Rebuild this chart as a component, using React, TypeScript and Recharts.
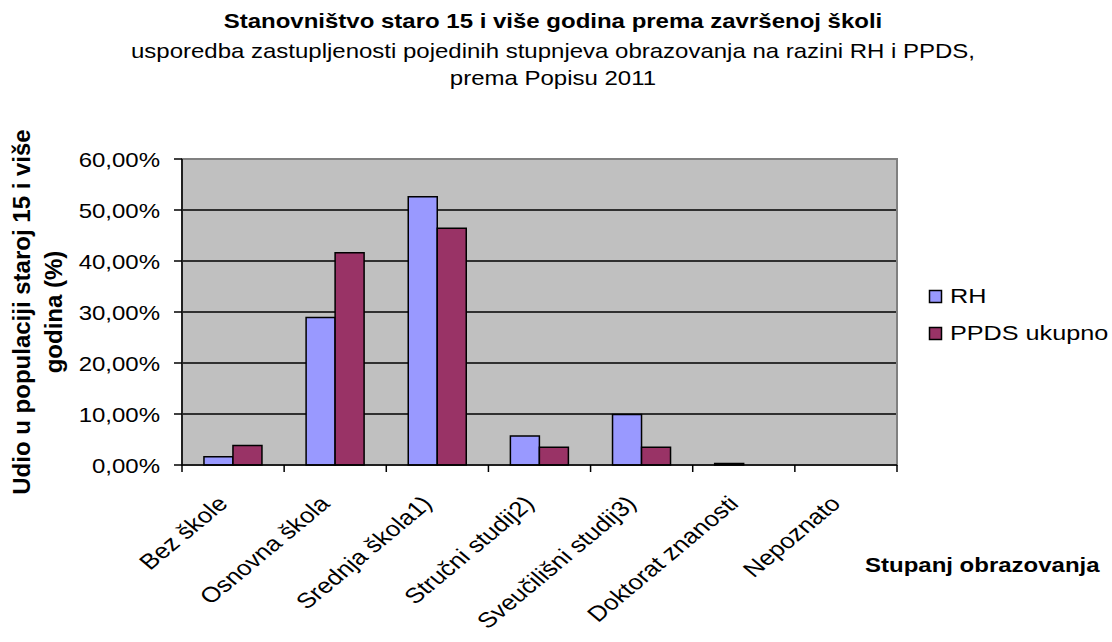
import React from 'react';
import { BarChart, Bar, XAxis, YAxis, CartesianGrid, ReferenceArea, Legend } from 'recharts';

const categories = [
  'Bez škole',
  'Osnovna škola',
  'Srednja škola1)',
  'Stručni studij2)',
  'Sveučilišni studij3)',
  'Doktorat znanosti',
  'Nepoznato',
];
const rhValues = [1.6, 28.9, 52.6, 5.7, 9.9, 0.3, 0];
const ppdsValues = [3.8, 41.6, 46.4, 3.5, 3.5, 0, 0];
const yTicks = [0, 10, 20, 30, 40, 50, 60];
const seriesNames = ['RH', 'PPDS ukupno'];
const seriesColors = ['#9999FF', '#993366'];
const titleText = 'Stanovništvo staro 15 i više godina prema završenoj školi';
const subtitleLines = [
  'usporedba zastupljenosti pojedinih stupnjeva obrazovanja na razini RH i PPDS,',
  'prema Popisu 2011',
];
const yLabelLines = ['Udio u populaciji staroj 15 i više', 'godina (%)'];
const xLabelText = 'Stupanj obrazovanja';

const data = categories.map((c, i) => ({ name: c, rh: rhValues[i], ppds: ppdsValues[i] }));

const FONT = '"Liberation Sans", Arial, sans-serif';
const SX = 1.2;

const fmt = (v: number) => v.toFixed(2).replace('.', ',') + '%';

const XTick = (props: any) => {
  const { x, y, payload, index } = props;
  const half = payload && typeof payload.offset === 'number' ? payload.offset : 51;
  const isLast = index === categories.length - 1;
  return (
    <g>
      <line x1={x - half} y1={y} x2={x - half} y2={y + 7} stroke="#000" strokeWidth={1.5} />
      {isLast && <line x1={x + half} y1={y} x2={x + half} y2={y + 7} stroke="#000" strokeWidth={1.5} />}
      <text
        transform={`translate(${x - 4},${y + 40}) scale(${SX},1) rotate(-45)`}
        textAnchor="end"
        fontSize={21.5}
        fontFamily={FONT}
        fill="#000"
      >
        {payload.value}
      </text>
    </g>
  );
};

const YTick = (props: any) => {
  const { x, y, payload } = props;
  return (
    <text
      transform={`translate(${x},${y + 8}) scale(${SX},1)`}
      textAnchor="end"
      fontSize={20}
      fontFamily={FONT}
      fill="#000"
    >
      {fmt(payload.value)}
    </text>
  );
};

const LegendContent = (props: any) => {
  const payload = [...(props.payload || [])].sort(
    (a: any, b: any) => seriesNames.indexOf(a.value) - seriesNames.indexOf(b.value)
  );
  return (
    <svg width={185} height={75} style={{ display: 'block' }}>
      {payload.map((p: any, i: number) => (
        <g key={i}>
          <rect x={2.5} y={7.5 + i * 37} width={12} height={12} fill={p.color} stroke="#000" strokeWidth={1.5} />
          <text
            transform={`translate(23,${20 + i * 37}) scale(${SX},1)`}
            fontSize={21}
            fontFamily={FONT}
            fill="#000"
          >
            {p.value}
          </text>
        </g>
      ))}
    </svg>
  );
};

export default function App() {
  return (
    <div style={{ position: 'absolute', left: 0, top: 0, width: 1112, height: 642, background: '#fff' }}>
      <BarChart
        width={1112}
        height={642}
        data={data}
        margin={{ top: 159, right: 215, bottom: 0, left: 0 }}
        barCategoryGap="21.5%"
        barGap={0}
      >
        <CartesianGrid
          vertical={false}
          horizontal={true}
          stroke="#000"
          strokeWidth={1.3}
          fill="#C0C0C0"
          fillOpacity={1}
        />
        <ReferenceArea y1={0} y2={60} fill="none" stroke="#808080" strokeWidth={2} ifOverflow="visible" />
        <XAxis
          dataKey="name"
          interval={0}
          height={177}
          tickSize={0}
          tickMargin={0}
          tickLine={false}
          axisLine={{ stroke: '#000', strokeWidth: 1.5 }}
          tick={<XTick />}
        />
        <YAxis
          width={182}
          domain={[0, 60]}
          ticks={yTicks}
          interval={0}
          tickSize={8}
          tickMargin={14}
          tickLine={{ stroke: '#000', strokeWidth: 1.5 }}
          axisLine={{ stroke: '#000', strokeWidth: 1.5 }}
          tick={<YTick />}
        />
        <Legend
          layout="horizontal"
          verticalAlign="middle"
          align="center"
          wrapperStyle={{ position: 'absolute', left: 927, top: 283, width: 185, height: 75 }}
          content={(p: any) => <LegendContent payload={p.payload} />}
        />
        <Bar dataKey="rh" name={seriesNames[0]} fill={seriesColors[0]} stroke="#000" strokeWidth={1.5} isAnimationActive={false} />
        <Bar dataKey="ppds" name={seriesNames[1]} fill={seriesColors[1]} stroke="#000" strokeWidth={1.5} isAnimationActive={false} />
      </BarChart>
      <svg
        width={1112}
        height={642}
        style={{ position: 'absolute', left: 0, top: 0, pointerEvents: 'none' }}
      >
        <text
          transform={`translate(553,28) scale(${SX},1)`}
          textAnchor="middle"
          fontSize={20}
          fontWeight="bold"
          fontFamily={FONT}
          fill="#000"
        >
          {titleText}
        </text>
        {subtitleLines.map((t, i) => (
          <text
            key={i}
            transform={`translate(553,${58 + i * 27}) scale(${SX},1)`}
            textAnchor="middle"
            fontSize={20}
            fontFamily={FONT}
            fill="#000"
          >
            {t}
          </text>
        ))}
        {yLabelLines.map((t, i) => (
          <text
            key={i}
            transform={`translate(${30 + i * 32},312) rotate(-90)`}
            textAnchor="middle"
            fontSize={24}
            fontWeight="bold"
            fontFamily={FONT}
            fill="#000"
          >
            {t}
          </text>
        ))}
        <text
          transform={`translate(865,572) scale(${SX},1)`}
          fontSize={20}
          fontWeight="bold"
          fontFamily={FONT}
          fill="#000"
        >
          {xLabelText}
        </text>
      </svg>
    </div>
  );
}
